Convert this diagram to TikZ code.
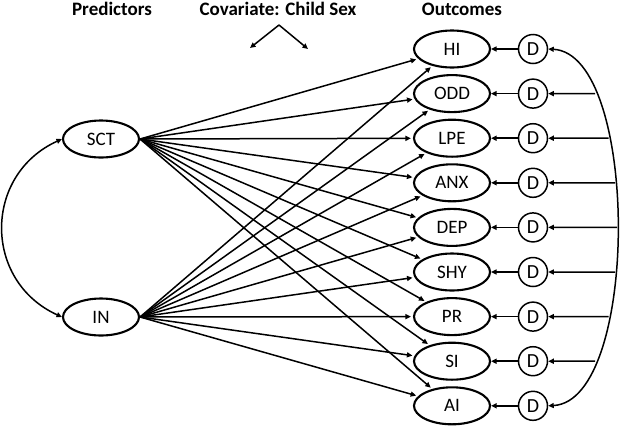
\documentclass[tikz,border=0pt]{standalone}
\usepackage{fontspec}
\setmainfont{Carlito}
\usetikzlibrary{arrows.meta,shapes.geometric,intersections}
\begin{document}
\begin{tikzpicture}[x=1pt,y=-1pt,
  lat/.style={ellipse,draw,line width=2.1pt,minimum width=76pt,minimum height=37pt,inner sep=0pt,font=\fontsize{19}{21}\selectfont},
  dist/.style={circle,draw,line width=1.5pt,minimum size=29pt,inner sep=0pt,font=\fontsize{20}{22}\selectfont},
  hdr/.style={font=\bfseries\fontsize{19}{22}\selectfont,anchor=base,inner sep=0pt},
  arr/.style={line width=1.5pt,-{Triangle[length=5.5pt,width=5pt]}},
  darr/.style={line width=1.5pt,{Triangle[length=5.5pt,width=5pt]}-{Triangle[length=5.5pt,width=5pt]}}
]
\useasboundingbox (0,0) rectangle (620,429);
\node[hdr] (hp) at (112,15) {Predictors};
\node[hdr] (hc) at (278,15) {Covariate: Child Sex};
\node[hdr] (ho) at (462,15) {Outcomes};
\coordinate (cov) at (279,25);
\coordinate (cl) at (250,48);
\coordinate (cr) at (308,49);
\draw[arr] (cov) -- (cl);
\draw[arr] (cov) -- (cr);
\node[lat] (SCT) at (101,139) {SCT};
\node[lat] (IN) at (101,317) {IN};
\foreach \n [count=\i] in {HI,ODD,LPE,ANX,DEP,SHY,PR,SI,AI} {
  \node[lat] (\n) at (452,{49+(\i-1)*44.6}) {\n};
  \node[dist] (D\n) at (533,{49+(\i-1)*44.6}) {D};
  \draw[arr] (D\n) -- (\n);
}
\foreach \n in {HI,ODD,LPE,ANX,DEP,SHY,PR,SI,AI} {
  \draw[arr,shorten >=2pt] (SCT.east) -- (\n);
  \draw[arr,shorten >=2pt] (IN.east) -- (\n);
}
\draw[darr,name path=arc] (DHI.east) .. controls (640,54) and (640,401) .. (DAI.east);
\foreach \n in {ODD,LPE,ANX,DEP,SHY,PR,SI} {
  \path[name path=h\n] (D\n.east) -- ++(100,0);
  \path[name intersections={of=arc and h\n, by={p\n}}];
  \draw[arr] (p\n) -- (D\n);
}
\draw[darr] (SCT.west) .. controls (-17,175) and (-17,281) .. (IN.west);
\end{tikzpicture}
\end{document}
